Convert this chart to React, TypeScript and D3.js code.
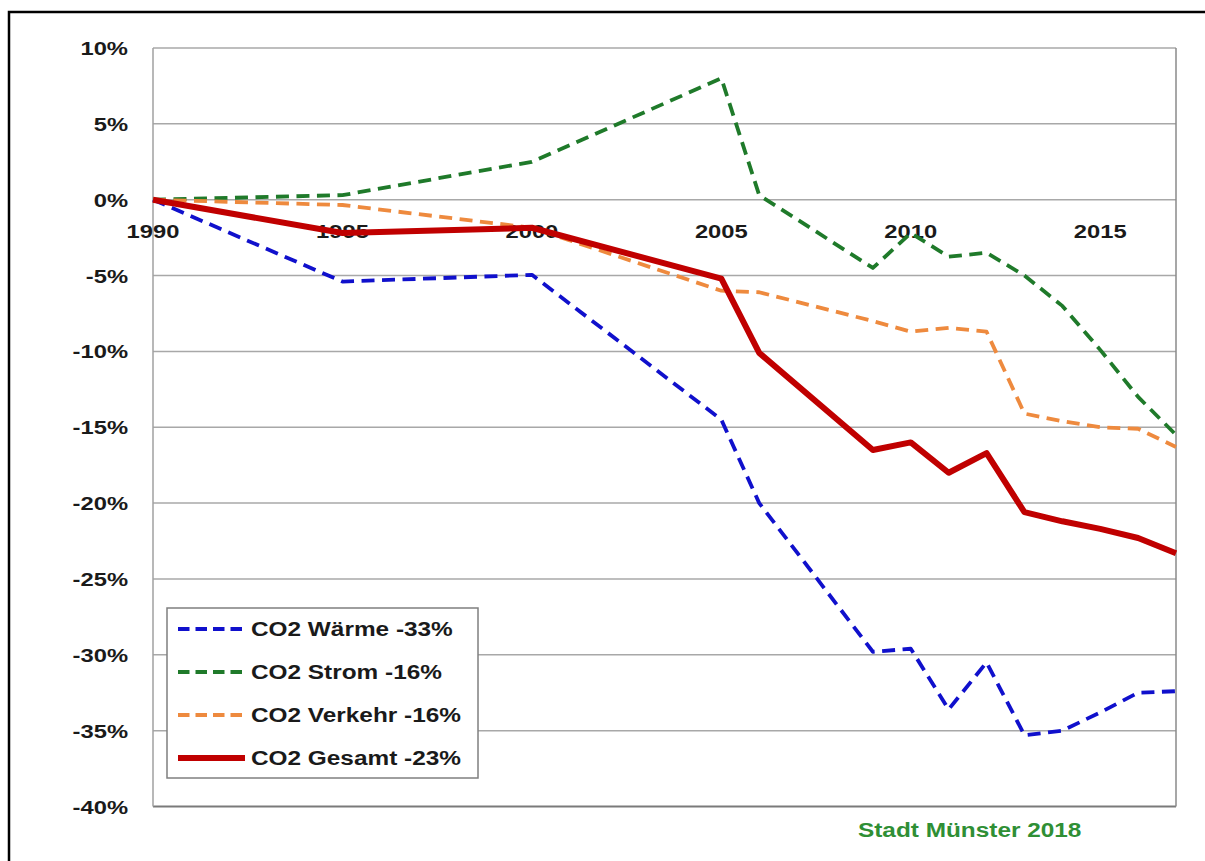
import React from "react";
import * as d3 from "d3";

const years = [1990, 1995, 2000, 2005, 2006, 2009, 2010, 2011, 2012, 2013, 2014, 2015, 2016, 2017];
const waerme = [0, -5.4, -4.95, -14.5, -20.0, -29.8, -29.6, -33.6, -30.5, -35.3, -35.0, -33.8, -32.5, -32.4];
const strom = [0, 0.3, 2.5, 8.0, 0.3, -4.5, -2.2, -3.75, -3.5, -5.0, -7.0, -9.9, -13.0, -15.5];
const verkehr = [0, -0.35, -1.85, -6.0, -6.1, -8.0, -8.7, -8.45, -8.7, -14.1, -14.6, -15.0, -15.1, -16.3];
const gesamt = [0, -2.2, -1.85, -5.2, -10.1, -16.5, -16.0, -18.0, -16.7, -20.6, -21.2, -21.7, -22.3, -23.3];

const xTicks = [1990, 1995, 2000, 2005, 2010, 2015];
const yTicks = [10, 5, 0, -5, -10, -15, -20, -25, -30, -35, -40];

const seriesNames = ["CO2 Wärme -33%", "CO2 Strom -16%", "CO2 Verkehr -16%", "CO2 Gesamt -23%"];
const seriesValues = [waerme, strom, verkehr, gesamt];
const seriesColors = ["#1010cc", "#1f7a2a", "#ee8a3e", "#c00000"];
const seriesWidths = [3.8, 3.8, 3.8, 6];
const seriesDash = ["13,7.5", "13,7.5", "13,7.5", null];

const footer = "Stadt Münster 2018";

export default function App() {
  const left = 153, right = 1176, top = 48, bottom = 806.5;
  const x = d3.scaleLinear().domain([1990, 2017]).range([left, right]);
  const y = d3.scaleLinear().domain([10, -40]).range([top, bottom]);
  const font = "'Liberation Sans', Arial, sans-serif";
  const sx = 1.25;

  const lineGen = (vals: number[]) =>
    d3.line<number>().x((_, i) => x(years[i])).y((v) => y(v))(vals) || "";

  const legX = 167, legY = 608, legW = 311, legH = 170;
  const rowY = [629, 672, 715, 758];

  return (
    <svg width={1205} height={861} style={{ position: "fixed", left: 0, top: 0, background: "#fff" }}>
      <rect x={0} y={0} width={1205} height={861} fill="#fff" />
      {/* outer frame (only left and top edges visible) */}
      <path d="M9,900 V12 H1400" fill="none" stroke="#000" strokeWidth={2.5} />

      {/* gridlines */}
      {yTicks.map((t) => (
        <line key={t} x1={left} x2={right} y1={y(t)} y2={y(t)}
          stroke={t === -40 ? "#7a7a7a" : "#a8a8a8"} strokeWidth={t === -40 ? 2 : 1.5} />
      ))}
      <line x1={left} x2={left} y1={top} y2={bottom} stroke="#a0a0a0" strokeWidth={1.5} />
      <line x1={right} x2={right} y1={top} y2={bottom} stroke="#8a8a8a" strokeWidth={1.5} />

      {/* y labels */}
      {yTicks.map((t) => (
        <text key={t} transform={`translate(128,${y(t) + 7}) scale(${sx},1)`} textAnchor="end"
          fontFamily={font} fontWeight="bold" fontSize={19} fill="#1a1a1a">{`${t}%`}</text>
      ))}

      {/* x labels */}
      {xTicks.map((t) => (
        <text key={t} transform={`translate(${x(t)},${y(0) + 38}) scale(${sx},1)`} textAnchor="middle"
          fontFamily={font} fontWeight="bold" fontSize={19} fill="#1a1a1a">{String(t)}</text>
      ))}

      {/* series lines */}
      {seriesValues.map((vals, i) => (
        <path key={i} d={lineGen(vals)} fill="none" stroke={seriesColors[i]} strokeWidth={seriesWidths[i]}
          strokeDasharray={seriesDash[i] || undefined} strokeLinejoin="round" />
      ))}

      {/* legend */}
      <rect x={legX} y={legY} width={legW} height={legH} fill="#fff" stroke="#7f7f7f" strokeWidth={1.5} />
      {seriesNames.map((name, i) => (
        <g key={name}>
          <line x1={178} x2={245} y1={rowY[i]} y2={rowY[i]} stroke={seriesColors[i]}
            strokeWidth={seriesWidths[i]} strokeDasharray={seriesDash[i] ? "11.5,6" : undefined} />
          <text transform={`translate(251,${rowY[i] + 7}) scale(${sx},1)`} fontFamily={font}
            fontWeight="bold" fontSize={19.5} fill="#1a1a1a">{name}</text>
        </g>
      ))}

      {/* footer */}
      <text transform={`translate(858,837) scale(${sx},1)`} fontFamily={font} fontWeight="bold"
        fontSize={19.5} fill="#2f8f35">{footer}</text>
    </svg>
  );
}
